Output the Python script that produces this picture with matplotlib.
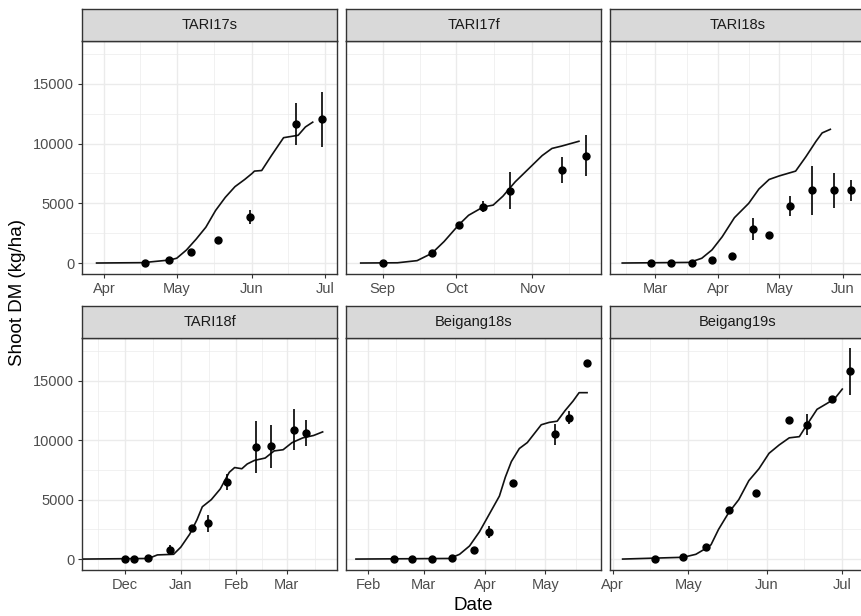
import matplotlib
matplotlib.use("Agg")
import matplotlib.pyplot as plt
import matplotlib.dates as mdates
import pandas as pd

plt.rcParams['font.family'] = ['Liberation Sans', 'DejaVu Sans']

# Nomes dos paineis
paineis = ["TARI17s", "TARI17f", "TARI18s", "TARI18f", "Beigang18s", "Beigang19s"]

# TARI17s - simulado
tari17s_sim_datas = ["2017-03-29", "2017-04-17", "2017-04-28", "2017-05-01", "2017-05-05", "2017-05-09",
                     "2017-05-13", "2017-05-17", "2017-05-21", "2017-05-25", "2017-05-29", "2017-06-01",
                     "2017-06-02", "2017-06-05", "2017-06-09", "2017-06-14", "2017-06-20", "2017-06-23",
                     "2017-06-26"]
tari17s_sim = [0, 30, 250, 400, 1090, 2000, 3000, 4400, 5500, 6400, 7000, 7500,
               7700, 7750, 9000, 10500, 10700, 11400, 11800]
# TARI17s - observado
tari17s_obs_datas = ["2017-04-18", "2017-04-28", "2017-05-07", "2017-05-18", "2017-05-31", "2017-06-19", "2017-06-30"]
tari17s_obs = [0, 250, 900, 1930, 3880, 11650, 12050]
tari17s_dp = [0, 0, 0, 100, 580, 1750, 2300]

# TARI17f
tari17f_sim_datas = ["2017-08-23", "2017-09-07", "2017-09-15", "2017-09-21", "2017-09-26", "2017-10-02",
                     "2017-10-06", "2017-10-12", "2017-10-16", "2017-10-20", "2017-10-25", "2017-10-31",
                     "2017-11-05", "2017-11-09", "2017-11-13", "2017-11-20"]
tari17f_sim = [0, 20, 200, 810, 1800, 3200, 4000, 4700, 4850, 5600, 6800, 8000, 9000, 9600, 9800, 10200]
tari17f_obs_datas = ["2017-09-01", "2017-09-21", "2017-10-02", "2017-10-12", "2017-10-23", "2017-11-13", "2017-11-23"]
tari17f_obs = [0, 810, 3180, 4720, 6060, 7800, 9000]
tari17f_dp = [0, 0, 0, 470, 1530, 1100, 1730]

# TARI18s
tari18s_sim_datas = ["2018-02-13", "2018-03-18", "2018-03-24", "2018-03-29", "2018-04-03", "2018-04-09",
                     "2018-04-16", "2018-04-21", "2018-04-26", "2018-05-01", "2018-05-05", "2018-05-09",
                     "2018-05-14", "2018-05-19", "2018-05-22", "2018-05-26"]
tari18s_sim = [0, 50, 400, 1100, 2200, 3800, 5000, 6200, 7000, 7300, 7500, 7700, 8900, 10200, 10900, 11200]
tari18s_obs_datas = ["2018-02-27", "2018-03-09", "2018-03-19", "2018-03-29", "2018-04-08", "2018-04-18",
                     "2018-04-26", "2018-05-06", "2018-05-17", "2018-05-28", "2018-06-05"]
tari18s_obs = [0, 0, 30, 280, 620, 2850, 2330, 4780, 6080, 6080, 6080]
tari18s_dp = [0, 0, 0, 0, 0, 900, 0, 840, 2060, 1500, 900]

# TARI18f
tari18f_sim_datas = ["2018-11-08", "2018-12-14", "2018-12-19", "2018-12-28", "2019-01-01", "2019-01-06",
                     "2019-01-10", "2019-01-13", "2019-01-18", "2019-01-23", "2019-01-28", "2019-01-31",
                     "2019-02-04", "2019-02-07", "2019-02-11", "2019-02-17", "2019-02-22", "2019-02-27",
                     "2019-03-04", "2019-03-10", "2019-03-16", "2019-03-21"]
tari18f_sim = [0, 50, 350, 400, 1000, 2100, 3300, 4400, 5000, 5900, 7300, 7700,
               7600, 8000, 8300, 8500, 9100, 9200, 9800, 10200, 10400, 10700]
tari18f_obs_datas = ["2018-12-01", "2018-12-06", "2018-12-14", "2018-12-26", "2019-01-07", "2019-01-16",
                     "2019-01-27", "2019-02-12", "2019-02-20", "2019-03-05", "2019-03-12"]
tari18f_obs = [0, 0, 70, 800, 2600, 3000, 6500, 9400, 9500, 10900, 10600]
tari18f_dp = [0, 0, 0, 400, 150, 700, 650, 2200, 1800, 1700, 1100]

# Beigang18s
beigang18s_sim_datas = ["2018-01-26", "2018-03-14", "2018-03-19", "2018-03-24", "2018-03-29", "2018-04-03",
                        "2018-04-08", "2018-04-11", "2018-04-14", "2018-04-18", "2018-04-22", "2018-04-29",
                        "2018-05-03", "2018-05-07", "2018-05-11", "2018-05-15", "2018-05-18", "2018-05-22"]
beigang18s_sim = [0, 50, 400, 1100, 2300, 3800, 5300, 6900, 8200, 9300, 9800, 11300,
                  11500, 11600, 12500, 13300, 14000, 14000]
beigang18s_obs_datas = ["2018-02-14", "2018-02-23", "2018-03-05", "2018-03-15", "2018-03-26", "2018-04-03",
                        "2018-04-15", "2018-05-06", "2018-05-13", "2018-05-22"]
beigang18s_obs = [0, 0, 30, 80, 800, 2250, 6400, 10500, 11900, 16500]
beigang18s_dp = [0, 0, 0, 0, 0, 500, 0, 900, 560, 0]

# Beigang19s
beigang19s_sim_datas = ["2019-04-05", "2019-04-29", "2019-05-04", "2019-05-08", "2019-05-10", "2019-05-13",
                        "2019-05-17", "2019-05-21", "2019-05-25", "2019-05-29", "2019-06-02", "2019-06-06",
                        "2019-06-10", "2019-06-14", "2019-06-17", "2019-06-21", "2019-06-25", "2019-06-28",
                        "2019-07-01"]
beigang19s_sim = [0, 150, 400, 900, 1200, 2500, 3900, 5000, 6600, 7600, 8900, 9600,
                  10200, 10300, 11300, 12600, 13100, 13500, 14300]
beigang19s_obs_datas = ["2019-04-18", "2019-04-29", "2019-05-08", "2019-05-17", "2019-05-28", "2019-06-10",
                        "2019-06-17", "2019-06-27", "2019-07-04"]
beigang19s_obs = [0, 200, 1000, 4100, 5600, 11700, 11300, 13500, 15800]
beigang19s_dp = [0, 0, 0, 0, 0, 0, 900, 0, 2000]

# Limites do eixo x de cada painel (escala livre)
limites_x = [("2017-03-23", "2017-07-06"), ("2017-08-17", "2017-11-29"), ("2018-02-07", "2018-06-12"),
             ("2018-11-07", "2019-03-29"), ("2018-01-21", "2018-05-29"), ("2019-03-31", "2019-07-10")]

dados = [
    (tari17s_sim_datas, tari17s_sim, tari17s_obs_datas, tari17s_obs, tari17s_dp),
    (tari17f_sim_datas, tari17f_sim, tari17f_obs_datas, tari17f_obs, tari17f_dp),
    (tari18s_sim_datas, tari18s_sim, tari18s_obs_datas, tari18s_obs, tari18s_dp),
    (tari18f_sim_datas, tari18f_sim, tari18f_obs_datas, tari18f_obs, tari18f_dp),
    (beigang18s_sim_datas, beigang18s_sim, beigang18s_obs_datas, beigang18s_obs, beigang18s_dp),
    (beigang19s_sim_datas, beigang19s_sim, beigang19s_obs_datas, beigang19s_obs, beigang19s_dp),
]

W, H = 861, 616
fig = plt.figure(figsize=(W / 100, H / 100), dpi=100)

colunas = [82, 346, 610]   # borda esquerda de cada coluna (px)
largura = 255
linhas = [(41, 274), (338, 570)]  # topo e base de cada linha (px)
altura_faixa = 32
borda = '#333333'

for i, nome in enumerate(paineis):
    r, c = divmod(i, 3)
    topo, base = linhas[r]
    ax = fig.add_axes([colunas[c] / W, 1 - base / H, largura / W, (base - topo) / H])
    sim_d, sim_v, obs_d, obs_v, dp = dados[i]
    sim_d = pd.to_datetime(sim_d)
    obs_d = pd.to_datetime(obs_d)

    ax.plot(sim_d, sim_v, color='#111111', lw=1.2, zorder=3)
    ax.vlines(obs_d, [v - s for v, s in zip(obs_v, dp)], [v + s for v, s in zip(obs_v, dp)],
              color='black', lw=1.2, zorder=4)
    ax.plot(obs_d, obs_v, 'o', color='black', ms=5, zorder=5)

    x0, x1 = pd.to_datetime(limites_x[i][0]), pd.to_datetime(limites_x[i][1])
    ax.set_ylim(-920, 18600)

    # Grades principais e secundarias
    ax.xaxis.set_major_locator(mdates.MonthLocator())
    ax.xaxis.set_major_formatter(mdates.DateFormatter('%b'))
    meses = pd.date_range(x0 - pd.DateOffset(months=2), x1 + pd.DateOffset(months=2), freq='MS')
    meios = [meses[k] + (meses[k + 1] - meses[k]) / 2 for k in range(len(meses) - 1)]
    ax.set_xticks(meios, minor=True)
    ax.set_xlim(x0, x1)
    ax.set_yticks([0, 5000, 10000, 15000])
    ax.set_yticks([2500, 7500, 12500, 17500], minor=True)
    ax.grid(True, which='major', color='#EBEBEB', lw=1.0, zorder=0)
    ax.grid(True, which='minor', color='#EBEBEB', lw=0.5, zorder=0)
    ax.set_axisbelow(True)

    ax.tick_params(which='major', length=3, width=0.8, color=borda, labelsize=10.5, labelcolor='#4D4D4D', pad=2.5)
    ax.tick_params(which='minor', length=0)
    if c != 0:
        ax.tick_params(axis='y', which='both', left=False, labelleft=False)
    for s in ax.spines.values():
        s.set_color(borda)
        s.set_linewidth(1.0)

    # Faixa com o nome do painel
    faixa = fig.add_axes([colunas[c] / W, 1 - topo / H, largura / W, altura_faixa / H])
    faixa.set_facecolor('#D9D9D9')
    faixa.set_xticks([])
    faixa.set_yticks([])
    for s in faixa.spines.values():
        s.set_color(borda)
        s.set_linewidth(1.0)
    faixa.text(0.5, 0.5, nome, ha='center', va='center', fontsize=10.5, color='#1A1A1A',
               transform=faixa.transAxes)

fig.text(18 / W, 1 - 292 / H, 'Shoot DM (kg/ha)', rotation=90, ha='center', va='center', fontsize=13.5)
fig.text(473 / W, 1 - 606 / H, 'Date', ha='center', va='center', fontsize=13.5)

fig.savefig('out.png', dpi=100)
